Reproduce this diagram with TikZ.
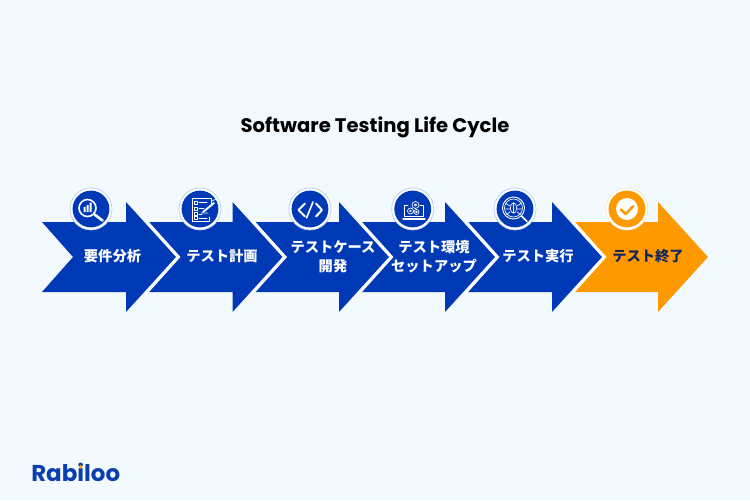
\documentclass[tikz,border=0pt]{standalone}
\usepackage{fontspec}
\setmainfont{Poppins}
\newfontfamily\cjk{Noto Sans CJK JP}
\definecolor{pagebg}{HTML}{F3FAFF}
\definecolor{stageblue}{HTML}{0039B5}
\definecolor{stageorange}{HTML}{FF9900}
\definecolor{stageink}{HTML}{14275C}
\definecolor{ringblue}{HTML}{B4CBF2}
\definecolor{ringorange}{HTML}{FBE6BE}
\definecolor{logoblue}{HTML}{0B3FAE}
\tikzset{
    % head of each arrow sits at the pic's origin
    stagearrow/.pic={
        \fill[pic actions] (-84,-35) -- (0,-35) -- (0,-55) -- (50,0) -- (0,55) -- (0,35) -- (-84,35) -- (-53,0) -- cycle;
    },
    stagegap/.pic={
        \draw[white, line width=2.2pt] (21,-35) -- (52.5,0) -- (21,35);
    },
    badge/.pic={
        \fill[white] (0,0) circle (21);
        \draw[pic actions, line width=0.5pt, fill=none] (0,0) circle (21);
        \fill[pic actions, draw=none] (0,0) circle (18.4);
    },
    icon/.style={white, line width=0.9pt, line cap=round, line join=round},
    thinicon/.style={white, line width=0.5pt, line cap=round, line join=round},
    stagelabel/.style={font=\cjk\bfseries\fontsize{10.7}{14.4}\selectfont, align=center, text=white, inner sep=0pt}
}
\begin{document}
\begin{tikzpicture}[x=0.75pt, y=-0.75pt]
    \fill[pagebg] (0,0) rectangle (750,500);
    \useasboundingbox (0,0) rectangle (750,500);

    \node[font=\bfseries\fontsize{14.7}{17}\selectfont, text=black, inner sep=0pt] (title) at (375,127) {Software Testing Life Cycle};

    \pic[fill=stageorange] at (658,257) {stagearrow};
    \pic[fill=stageblue] at (552,257) {stagearrow};
    \pic[fill=stageblue] at (445,257) {stagearrow};
    \pic[fill=stageblue] at (339,257) {stagearrow};
    \pic[fill=stageblue] at (232.5,257) {stagearrow};
    \pic[fill=stageblue] at (126,257) {stagearrow};

    \pic at (126,257) {stagegap};
    \pic at (232.5,257) {stagegap};
    \pic at (339,257) {stagegap};
    \pic at (445,257) {stagegap};
    \pic at (552,257) {stagegap};

    \node[stagelabel] (s1) at (112.5,256.5) {要件分析};
    \node[stagelabel] (s2) at (222,256.5) {テスト計画};
    \node[stagelabel] (s3) at (333,256.5) {テストケース\\開発};
    \node[stagelabel] (s4) at (434,256.5) {テスト環境\\セットアップ};
    \node[stagelabel] (s5) at (538,256.5) {テスト実行};
    \node[stagelabel, text=stageink] (s6) at (648,256.5) {テスト終了};

    \pic[draw=ringblue, fill=stageblue] at (91,209) {badge};
    \pic[draw=ringblue, fill=stageblue] at (200,209) {badge};
    \pic[draw=ringblue, fill=stageblue] at (310,209) {badge};
    \pic[draw=ringblue, fill=stageblue] at (412.7,209) {badge};
    \pic[draw=ringblue, fill=stageblue] at (515,209) {badge};
    \pic[draw=ringorange, fill=stageorange] at (627,209) {badge};

    % magnifier with bars
    \draw[icon, line width=1.2pt] (87.5,208) circle (8.5);
    \draw[icon, line width=2pt] (94.5,214.5) -- (102.5,220.5);
    \fill[white] (83.5,207) rectangle (85.5,212) (86.5,205) rectangle (88.5,212) (89.5,202.5) rectangle (91.5,212);

    % checklist and pen
    \draw[thinicon] (211,205) -- (211,198) -- (192,198) -- (192,221) -- (209,221) -- (209,217);
    \draw[thinicon] (194,201) rectangle (197,204) (194,207) rectangle (197,210) (194,212.5) rectangle (197,215.5) (194,216.5) rectangle (197,219);
    \draw[thinicon] (199,202) -- (207,202) (199,208) -- (204,208) (199,214) -- (202,214) (199,218) -- (207,218);
    \draw[icon, line width=1.4pt] (203,212) -- (214,203);
    \draw[thinicon] (201,213) -- (208,213) (212,201) -- (216,199);

    % code brackets
    \draw[icon, line width=1.5pt] (305,203.5) -- (298.5,210) -- (305,216.5);
    \draw[icon, line width=1.5pt] (316,203.5) -- (322,210) -- (316,216.5);
    \draw[icon, line width=1.2pt] (313,202) -- (306.5,218);

    % laptop and gears
    \draw[thinicon] (408,205) -- (404.5,205) -- (404.5,216) -- (423,216) -- (423,205) -- (420,205);
    \draw[icon] (403,219) -- (425,219);
    \draw[thinicon] (415.5,205) circle (3.5) (410.5,211) circle (3) (416.5,212) circle (2.5);
    \draw[thinicon] (415.5,205) circle (1.2) (410.5,211) circle (1) (416.5,212) circle (0.8);

    % bug under a lens
    \draw[thinicon, line width=0.7pt] (513.5,208) circle (11);
    \draw[thinicon] (513.5,208) circle (9);
    \draw[icon, line width=1.1pt] (521.5,216) -- (527,221.5);
    \draw[thinicon] (513.5,208) ellipse (3.2 and 5.2);
    \draw[thinicon] (513.5,203) -- (513.5,213) (510,206) -- (506,203.5) (510,209) -- (505.5,209) (510,212) -- (506.5,214.5) (517,206) -- (521,203.5) (517,209) -- (521.5,209) (517,212) -- (520.5,214.5);

    % finished check
    \fill[white] (627,209) circle (11);
    \draw[stageorange, line width=1.9pt, line cap=round, line join=round] (621,209.5) -- (625.8,214) -- (633.2,206.2);

    \node[font=\bfseries\fontsize{17.2}{19}\selectfont, text=logoblue, inner sep=0pt, anchor=west] (logo) at (31,472) {Rabiloo};
    \fill[stageorange] (80.6,466.6) circle (1.9);
\end{tikzpicture}
\end{document}
